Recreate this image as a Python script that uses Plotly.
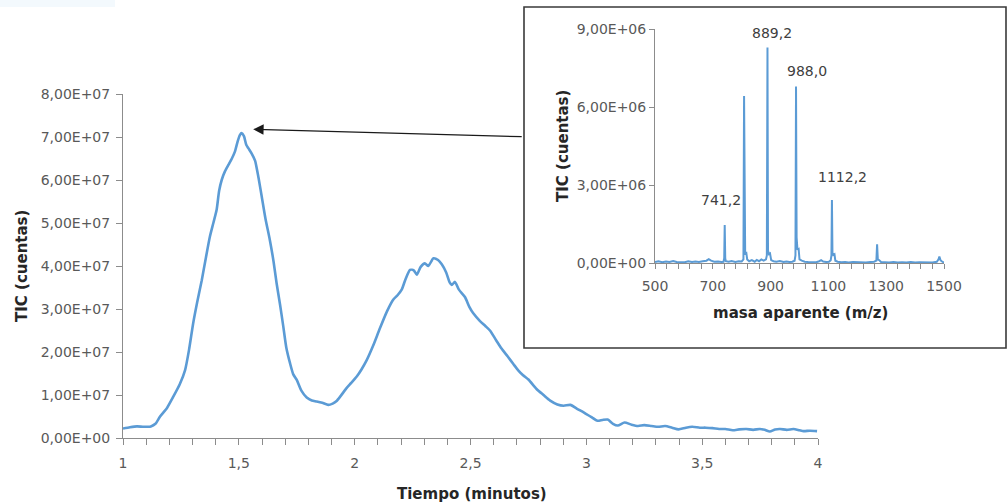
import plotly.graph_objects as go

# ---------------- data ----------------
time_min = [1.00, 1.03, 1.06, 1.09, 1.12, 1.14, 1.16, 1.19, 1.217, 1.245, 1.268, 1.285, 1.303, 1.32, 1.34,
            1.358, 1.375, 1.39, 1.404, 1.415, 1.426, 1.44, 1.455, 1.47, 1.483, 1.495, 1.505, 1.512, 1.522,
            1.532, 1.541, 1.555, 1.57, 1.585, 1.599, 1.615, 1.634, 1.65, 1.663, 1.678, 1.692, 1.705, 1.721,
            1.735, 1.75, 1.77, 1.793, 1.815, 1.836, 1.86, 1.886, 1.905, 1.922, 1.94, 1.965, 1.985, 2.009,
            2.03, 2.052, 2.08, 2.109, 2.14, 2.167, 2.185, 2.203, 2.22, 2.239, 2.255, 2.268, 2.285, 2.303,
            2.318, 2.34, 2.36, 2.376, 2.395, 2.41, 2.419, 2.433, 2.45, 2.476, 2.495, 2.512, 2.541, 2.565,
            2.584, 2.61, 2.634, 2.66, 2.685, 2.705, 2.727, 2.75, 2.785, 2.815, 2.844, 2.875, 2.902, 2.931,
            2.96, 2.99, 3.02, 3.048, 3.07, 3.092, 3.115, 3.136, 3.165, 3.195, 3.223, 3.25, 3.281, 3.31,
            3.34, 3.37, 3.398, 3.43, 3.457, 3.49, 3.515, 3.545, 3.573, 3.60, 3.632, 3.66, 3.69, 3.72,
            3.749, 3.77, 3.792, 3.815, 3.836, 3.865, 3.894, 3.92, 3.938, 3.965, 3.996]
tic_e7 = [0.22, 0.25, 0.27, 0.26, 0.27, 0.33, 0.50, 0.70, 0.96, 1.25, 1.58, 2.05, 2.67, 3.15, 3.67,
          4.20, 4.68, 5.00, 5.30, 5.75, 6.00, 6.20, 6.35, 6.50, 6.66, 6.90, 7.05, 7.09, 7.02,
          6.82, 6.74, 6.62, 6.45, 6.05, 5.61, 5.10, 4.60, 4.10, 3.60, 3.10, 2.59, 2.10, 1.74,
          1.48, 1.35, 1.10, 0.94, 0.87, 0.85, 0.82, 0.77, 0.80, 0.86, 0.98, 1.16, 1.28, 1.43,
          1.60, 1.81, 2.15, 2.55, 2.95, 3.22, 3.32, 3.45, 3.70, 3.91, 3.90, 3.80, 3.98, 4.06,
          4.00, 4.18, 4.14, 4.04, 3.85, 3.62, 3.56, 3.63, 3.45, 3.28, 3.05, 2.90, 2.72, 2.60,
          2.50, 2.28, 2.08, 1.90, 1.72, 1.58, 1.46, 1.36, 1.14, 1.00, 0.87, 0.78, 0.75, 0.77,
          0.68, 0.59, 0.49, 0.40, 0.42, 0.43, 0.33, 0.29, 0.36, 0.31, 0.28, 0.30, 0.28, 0.26,
          0.28, 0.24, 0.20, 0.24, 0.26, 0.24, 0.24, 0.23, 0.21, 0.21, 0.18, 0.20, 0.21, 0.19,
          0.21, 0.19, 0.15, 0.20, 0.21, 0.19, 0.21, 0.18, 0.16, 0.17, 0.16]

mz = [500, 512, 525, 538, 550, 563, 575, 590, 603, 615, 628, 640, 652, 665, 678, 686, 694, 705, 718,
      730, 737, 739.5, 741.2, 743, 745, 755, 765, 778, 790, 800, 806, 808.2, 810, 812, 816, 819, 826,
      835, 845, 852, 860, 868, 876, 884, 887, 889.2, 891, 894, 898, 902, 910, 920, 932, 945, 955, 965,
      975, 983, 986, 988.0, 990, 993, 997, 1000, 1008, 1018, 1030, 1045, 1058, 1068, 1075, 1082, 1092,
      1102, 1108, 1110.5, 1112.2, 1114, 1117, 1121, 1124, 1132, 1145, 1158, 1170, 1185, 1200, 1215,
      1230, 1245, 1258, 1266, 1268.5, 1271, 1276, 1282, 1295, 1310, 1325, 1340, 1355, 1370, 1385,
      1400, 1415, 1430, 1445, 1460, 1475, 1481, 1484, 1488, 1492, 1497, 1500]
ms_e6 = [0.05, 0.08, 0.04, 0.07, 0.05, 0.09, 0.05, 0.06, 0.04, 0.08, 0.05, 0.07, 0.05, 0.08, 0.10, 0.16, 0.10, 0.06, 0.07,
         0.05, 0.06, 0.20, 1.47, 0.20, 0.08, 0.06, 0.09, 0.05, 0.08, 0.07, 0.15, 6.43, 0.60, 0.38, 0.40, 0.15, 0.08,
         0.12, 0.06, 0.13, 0.08, 0.15, 0.10, 0.15, 0.30, 8.29, 0.50, 0.35, 0.38, 0.12, 0.08, 0.06, 0.09, 0.05, 0.07, 0.05,
         0.06, 0.10, 0.30, 6.79, 1.00, 0.52, 0.55, 0.15, 0.10, 0.06, 0.05, 0.06, 0.04, 0.08, 0.12, 0.07, 0.05,
         0.06, 0.12, 0.30, 2.43, 0.40, 0.32, 0.35, 0.10, 0.06, 0.04, 0.05, 0.03, 0.05, 0.04, 0.05,
         0.03, 0.05, 0.06, 0.10, 0.73, 0.15, 0.12, 0.05, 0.04, 0.03, 0.05, 0.03, 0.04, 0.03, 0.05,
         0.03, 0.04, 0.03, 0.04, 0.03, 0.06, 0.15, 0.26, 0.12, 0.08, 0.04, 0.02]

peak_labels = ["741,2", "889,2", "988,0", "1112,2"]

main_xtick_vals = [1, 1.5, 2, 2.5, 3, 3.5, 4]
main_xtick_text = ["1", "1,5", "2", "2,5", "3", "3,5", "4"]
main_ytick_vals = [0, 1e7, 2e7, 3e7, 4e7, 5e7, 6e7, 7e7, 8e7]
main_ytick_text = ["0,00E+00", "1,00E+07", "2,00E+07", "3,00E+07", "4,00E+07",
                   "5,00E+07", "6,00E+07", "7,00E+07", "8,00E+07"]
ins_xtick_vals = [500, 700, 900, 1100, 1300, 1500]
ins_xtick_text = ["500", "700", "900", "1100", "1300", "1500"]
ins_ytick_vals = [0, 3e6, 6e6, 9e6]
ins_ytick_text = ["0,00E+00", "3,00E+06", "6,00E+06", "9,00E+06"]

x_title = "Tiempo (minutos)"
y_title = "TIC (cuentas)"
ins_x_title = "masa aparente (m/z)"
ins_y_title = "TIC (cuentas)"

# ---------------- figure ----------------
W, H = 1008, 504
FONT = "DejaVu Sans"
LINE_BLUE = "#5B9BD5"
AXIS_GRAY = "#8c8c8c"
TICK_COL = "#595959"
TITLE_COL = "#262626"

def px_x(p):
    return p / W

def px_y(p):
    return 1 - p / H

fig = go.Figure()
fig.add_trace(go.Scatter(x=time_min, y=[v * 1e7 for v in tic_e7], mode="lines",
                         line=dict(color=LINE_BLUE, width=2.6, shape="spline", smoothing=0.6),
                         xaxis="x", yaxis="y", showlegend=False, hoverinfo="skip"))
fig.add_trace(go.Scatter(x=mz, y=[v * 1e6 for v in ms_e6], mode="lines",
                         line=dict(color=LINE_BLUE, width=2),
                         xaxis="x2", yaxis="y2", showlegend=False, hoverinfo="skip"))

tickfont = dict(family=FONT, size=14, color=TICK_COL)
axcommon = dict(showgrid=False, zeroline=False, showline=True, linecolor=AXIS_GRAY, linewidth=1,
                ticks="outside", tickcolor=AXIS_GRAY, ticklen=6, tickwidth=1, tickfont=tickfont,
                automargin=False)

fig.update_layout(
    width=W, height=H, margin=dict(l=0, r=0, t=0, b=0, pad=0, autoexpand=False),
    paper_bgcolor="white", plot_bgcolor="rgba(0,0,0,0)",
    xaxis=dict(domain=[px_x(123), px_x(818)], range=[1, 4], anchor="y",
               tickmode="array", tickvals=main_xtick_vals, ticktext=main_xtick_text,
               minor=dict(dtick=0.1, tick0=1, ticks="outside", ticklen=6, tickcolor=AXIS_GRAY),
               ticklabelstandoff=6, **axcommon),
    yaxis=dict(domain=[px_y(438), px_y(94)], range=[0, 8e7], anchor="x",
               tickmode="array", tickvals=main_ytick_vals, ticktext=main_ytick_text,
               ticklabelstandoff=3, **axcommon),
    xaxis2=dict(domain=[px_x(655), px_x(944)], range=[500, 1500], anchor="y2",
                tickmode="array", tickvals=ins_xtick_vals, ticktext=ins_xtick_text,
                minor=dict(dtick=40, tick0=500, ticks="outside", ticklen=5, tickcolor=AXIS_GRAY),
                ticklabelstandoff=5, **{**axcommon, "ticklen": 5}),
    yaxis2=dict(domain=[px_y(263.3), px_y(29)], range=[0, 9e6], anchor="x2",
                tickmode="array", tickvals=ins_ytick_vals, ticktext=ins_ytick_text,
                **{**axcommon, "ticklen": 5}),
)

# inset frame and faint strip
fig.add_shape(type="rect", xref="paper", yref="paper", x0=px_x(524), x1=px_x(1006),
              y0=px_y(348), y1=px_y(7), line=dict(color="#3a3a3a", width=1.6),
              fillcolor="rgba(0,0,0,0)", layer="below")
fig.add_shape(type="rect", xref="paper", yref="paper", x0=0, x1=px_x(115),
              y0=px_y(7), y1=1, line=dict(width=0), fillcolor="#f3f9fd", layer="below")

titlefont = dict(family=FONT, size=15, color=TITLE_COL, weight="bold")
common_ann = dict(xref="paper", yref="paper", showarrow=False, xanchor="center", yanchor="middle",
                  font=titlefont)
anns = [
    dict(text=x_title, x=px_x(472), y=px_y(494), **common_ann),
    dict(text=y_title, x=px_x(22), y=px_y(266), textangle=-90, **common_ann),
    dict(text=ins_x_title, x=px_x(800), y=px_y(313), **common_ann),
    dict(text=ins_y_title, x=px_x(563), y=px_y(146), textangle=-90, **common_ann),
]
label_pos = [(728, 2.43e6), (906, 8.84e6), (1025, 7.4e6), (1149, 3.3e6)]
for txt, (lx, ly) in zip(peak_labels, label_pos):
    anns.append(dict(text=txt, x=lx, y=ly, xref="x2", yref="y2", showarrow=False,
                     xanchor="center", yanchor="middle",
                     font=dict(family=FONT, size=14, color="#404040")))
# arrow from inset to main peak
anns.append(dict(text="", x=1.562, y=7.18e7, xref="x", yref="y", showarrow=True,
                 ax=270, ay=7.5, axref="pixel", ayref="pixel",
                 arrowhead=2, arrowsize=1.6, arrowwidth=1.3, arrowcolor="#1a1a1a", standoff=0))
fig.update_layout(annotations=anns)

fig.write_html("out.html")
